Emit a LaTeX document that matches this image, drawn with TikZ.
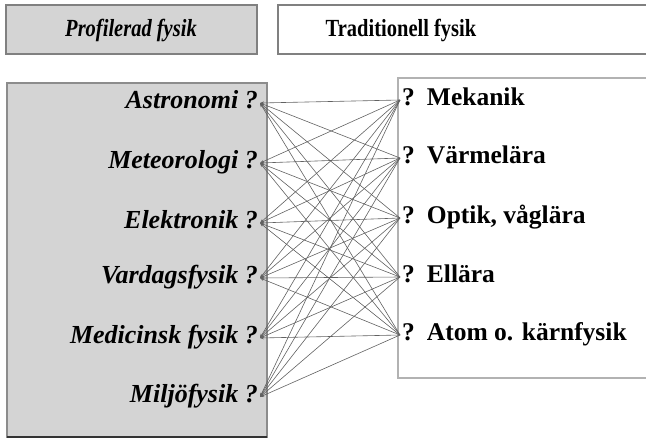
\documentclass[tikz,border=0pt]{standalone}
\usepackage{fontspec}
\setmainfont{Liberation Serif}
\usetikzlibrary{arrows.meta}
\begin{document}
\begin{tikzpicture}[x=1pt,y=-1pt,
  box/.style={draw=black!50,line width=1.2pt},
  lefttxt/.style={font=\fontsize{26}{28}\selectfont\bfseries\itshape,anchor=east,inner sep=2pt,text height=10pt,text depth=0pt},
  righttxt/.style={font=\fontsize{25.5}{28}\selectfont\bfseries,anchor=west,inner sep=2pt,text height=10pt,text depth=0pt},
  hdr/.style={font=\fontsize{20.5}{22}\selectfont\bfseries,anchor=base},
  conn/.style={draw=black!62,line width=0.6pt,-{Stealth[length=4pt,width=3pt]}}]
\useasboundingbox (0,0) rectangle (646,440);
% header boxes
\filldraw[box,fill=black!17] (6,5) rectangle (257,54);
\filldraw[box,fill=white] (278,5) rectangle (652,54);
\node[hdr,font=\fontsize{20.5}{22}\selectfont\bfseries\itshape] (h1) at (131,36) {\scalebox{1}[1.2]{Profilerad fysik}};
\node[hdr] (h2) at (401,36) {\scalebox{1}[1.2]{Traditionell fysik}};
% main boxes
\filldraw[draw=black!45,line width=1.2pt,fill=black!17] (7,83) rectangle (267,437);
\draw[black!80,line width=1.5pt] (7,437) -- (267,437);
\filldraw[draw=black!30,line width=1.2pt,fill=white] (398,78) rectangle (652,378);
% left labels
\node[lefttxt] (L1) at (260,103) {Astronomi ?};
\node[lefttxt] (L2) at (260,163) {Meteorologi ?};
\node[lefttxt] (L3) at (260,223) {Elektronik ?};
\node[lefttxt] (L4) at (260,278) {Vardagsfysik ?};
\node[lefttxt] (L5) at (260,338) {Medicinsk fysik ?};
\node[lefttxt] (L6) at (260,397) {Miljöfysik ?};
% right labels
\node[righttxt] (R1) at (400,100) {?\hspace{12pt}Mekanik};
\node[righttxt] (R2) at (400,158) {?\hspace{12pt}Värmelära};
\node[righttxt] (R3) at (400,218) {?\hspace{12pt}Optik, våglära};
\node[righttxt] (R4) at (400,277) {?\hspace{12pt}Ellära};
\node[righttxt] (R5) at (400,335) {?\hspace{12pt}Atom o. kärnfysik};
% connectors
\foreach \r in {1,...,5}{
  \foreach \l in {1,...,6}{
    \draw[conn] (R\r.west) -- (L\l.east);
  }
}
\end{tikzpicture}
\end{document}
